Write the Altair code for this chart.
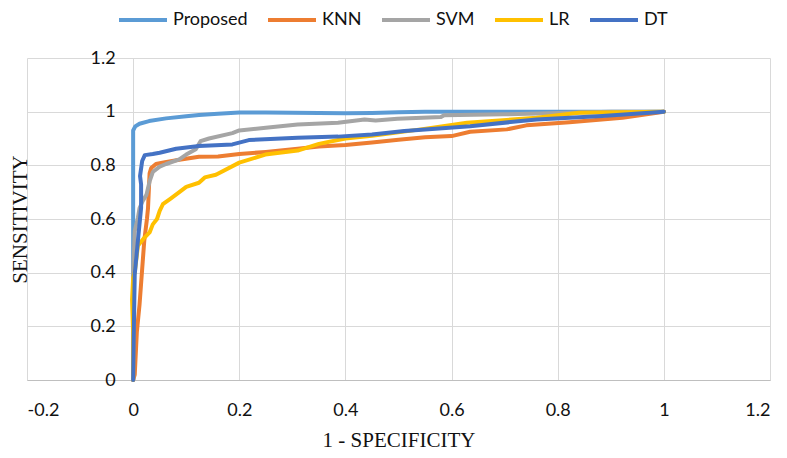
import altair as alt
import pandas as pd

series_names = ["Proposed", "KNN", "SVM", "LR", "DT"]
series_colors = ["#5B9BD5", "#ED7D31", "#A5A5A5", "#FFC000", "#4472C4"]
tick_values = [-0.2, 0, 0.2, 0.4, 0.6, 0.8, 1.0, 1.2]
y_tick_values = [0, 0.2, 0.4, 0.6, 0.8, 1.0, 1.2]

proposed_x = [0, 0, 0.004, 0.012, 0.03, 0.062, 0.1, 0.124, 0.16, 0.2, 0.25, 0.3, 0.35, 0.4, 0.45, 0.5, 0.55, 0.7, 1.0]
proposed_y = [0, 0.93, 0.945, 0.955, 0.965, 0.975, 0.983, 0.988, 0.992, 0.997, 0.997, 0.996, 0.995, 0.994, 0.995, 0.998, 1.0, 1.0, 1.0]

knn_x = [0, 0.003, 0.007, 0.012, 0.015, 0.018, 0.021, 0.026, 0.028, 0.031, 0.034, 0.043, 0.06, 0.09, 0.124, 0.16, 0.2, 0.25, 0.31, 0.35, 0.4, 0.45, 0.5, 0.55, 0.6, 0.635, 0.704, 0.741, 0.822, 0.922, 1.0]
knn_y = [0, 0.02, 0.18, 0.28, 0.36, 0.44, 0.52, 0.6, 0.64, 0.77, 0.79, 0.805, 0.812, 0.822, 0.832, 0.833, 0.842, 0.85, 0.862, 0.87, 0.876, 0.885, 0.895, 0.905, 0.909, 0.925, 0.934, 0.949, 0.961, 0.977, 1.0]

svm_x = [0, 0, 0.002, 0.003, 0.009, 0.012, 0.018, 0.025, 0.031, 0.037, 0.05, 0.062, 0.087, 0.1, 0.118, 0.127, 0.143, 0.187, 0.2, 0.25, 0.31, 0.386, 0.436, 0.457, 0.498, 0.58, 0.586, 0.698, 0.822, 0.9, 1.0]
svm_y = [0, 0.4, 0.5, 0.555, 0.605, 0.64, 0.667, 0.69, 0.74, 0.775, 0.795, 0.805, 0.822, 0.84, 0.86, 0.89, 0.9, 0.92, 0.93, 0.94, 0.952, 0.959, 0.971, 0.967, 0.974, 0.98, 0.987, 0.99, 0.996, 1.0, 1.0]

lr_x = [0, 0, -0.002, 0, 0.003, 0.009, 0.021, 0.031, 0.037, 0.045, 0.05, 0.056, 0.07, 0.087, 0.1, 0.124, 0.135, 0.156, 0.2, 0.249, 0.31, 0.35, 0.4, 0.45, 0.542, 0.629, 0.76, 0.84, 1.0]
lr_y = [0, 0.17, 0.3, 0.38, 0.4, 0.5, 0.53, 0.55, 0.58, 0.6, 0.63, 0.655, 0.675, 0.7, 0.72, 0.735, 0.755, 0.765, 0.81, 0.84, 0.855, 0.88, 0.9, 0.91, 0.934, 0.959, 0.977, 0.996, 1.0]

dt_x = [0, 0.001, 0.003, 0.009, 0.015, 0.015, 0.013, 0.017, 0.022, 0.037, 0.05, 0.081, 0.124, 0.187, 0.218, 0.31, 0.386, 0.45, 0.511, 0.635, 0.76, 0.884, 1.0]
dt_y = [0, 0.15, 0.394, 0.52, 0.642, 0.729, 0.76, 0.816, 0.838, 0.842, 0.847, 0.862, 0.872, 0.878, 0.894, 0.903, 0.907, 0.915, 0.928, 0.946, 0.971, 0.984, 1.0]

all_x = [proposed_x, knn_x, svm_x, lr_x, dt_x]
all_y = [proposed_y, knn_y, svm_y, lr_y, dt_y]

rows = []
for name, xs, ys in zip(series_names, all_x, all_y):
    for i, (a, b) in enumerate(zip(xs, ys)):
        rows.append({"series": name, "idx": i, "fpr": a, "tpr": b})
df = pd.DataFrame(rows)

W, H = 743, 322
x_zero_offset = -W * 0.2 / 1.4

label_expr = "toString(round(datum.value*10)/10)"
grid_color = "#D9D9D9"

x_enc = alt.X(
    "fpr:Q",
    scale=alt.Scale(domain=[-0.2, 1.2], nice=False, zero=False),
    axis=alt.Axis(
        values=tick_values, labelExpr=label_expr, title="1 - SPECIFICITY",
        grid=True, gridColor=grid_color, ticks=False, domain=True,
        domainColor="#BFBFBF", labelFont="Lato", labelFontSize=18,
        labelColor="#111111", labelPadding=21, titleFont="Liberation Serif",
        titleFontSize=21, titleFontWeight="normal", titleColor="#111111",
        titlePadding=10,
    ),
)
y_enc = alt.Y(
    "tpr:Q",
    scale=alt.Scale(domain=[0, 1.2], nice=False),
    axis=alt.Axis(
        values=y_tick_values, labelExpr=label_expr, title="SENSITIVITY",
        grid=True, gridColor=grid_color, ticks=False, domain=False,
        offset=x_zero_offset, labelFont="Lato", labelFontSize=18,
        labelColor="#111111", labelPadding=18, titleFont="Liberation Serif",
        titleFontSize=21, titleFontWeight="normal", titleColor="#111111",
        titleX=-113, titleY=H / 2, titleBaseline="middle", titleAngle=270,
    ),
)
color_enc = alt.Color(
    "series:N",
    scale=alt.Scale(domain=series_names, range=series_colors),
    sort=series_names,
    legend=alt.Legend(
        title=None, orient="none", direction="horizontal",
        legendX=90, legendY=-64, symbolType="stroke", symbolSize=2304,
        symbolStrokeWidth=4, labelFont="Lato", labelFontSize=18,
        labelColor="#111111", labelOffset=4, columnPadding=12, padding=0,
    ),
)

layers = []
for name in series_names:
    layers.append(
        alt.Chart(df)
        .transform_filter(alt.datum.series == name)
        .mark_line(strokeWidth=4, strokeCap="round", strokeJoin="round")
        .encode(x=x_enc, y=y_enc, color=color_enc, order=alt.Order("idx:Q"))
    )

chart = (
    alt.layer(*layers)
    .properties(
        width=W, height=H,
        autosize=alt.AutoSizeParams(type="none"),
        padding={"left": 19, "top": 50, "right": 9, "bottom": 70},
    )
    .configure_view(strokeWidth=0)
)

chart.save("out.html", embed_options={"renderer": "svg", "actions": False})
